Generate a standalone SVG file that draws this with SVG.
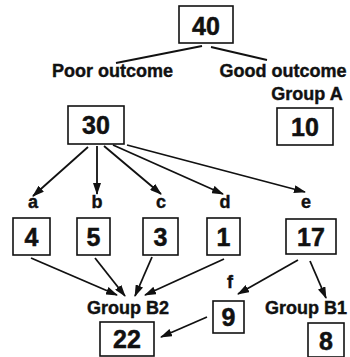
<svg xmlns="http://www.w3.org/2000/svg" width="350" height="357" viewBox="0 0 350 357">
<style>
.box{fill:#fff;stroke:#111;stroke-width:1.6}
.num{font-family:"Liberation Sans",Arial,sans-serif;font-weight:bold;font-size:25px;fill:#111;stroke:#111;stroke-width:0.5;text-anchor:middle}
.lbl{font-family:"Liberation Sans",Arial,sans-serif;font-weight:bold;font-size:18px;fill:#111;stroke:#111;stroke-width:0.4;text-anchor:middle}
.ln{stroke:#111;stroke-width:1.8;fill:none}
.ar{stroke:#111;stroke-width:1.8;fill:none;marker-end:url(#ah)}
</style>
<defs>
<marker id="ah" markerUnits="userSpaceOnUse" markerWidth="12" markerHeight="8" refX="11" refY="4" orient="auto">
<path d="M0,0 L12,4 L0,8 z" fill="#111"/>
</marker>
</defs>
<g id="connectors">
<line class="ln" x1="202" y1="46" x2="116" y2="63"/>
<line class="ln" x1="211" y1="47" x2="267" y2="60"/>
<line class="ar" x1="88" y1="147" x2="33" y2="196"/>
<line class="ar" x1="97" y1="146" x2="97" y2="194"/>
<line class="ar" x1="104" y1="146" x2="161" y2="194"/>
<line class="ar" x1="113" y1="145" x2="223" y2="194"/>
<line class="ar" x1="127" y1="145" x2="305" y2="192"/>
<line class="ar" x1="31" y1="258" x2="117" y2="295"/>
<line class="ar" x1="95" y1="258" x2="125" y2="296"/>
<line class="ar" x1="152" y1="257" x2="135" y2="296"/>
<line class="ar" x1="224" y1="259" x2="145" y2="295"/>
<line class="ar" x1="298" y1="260" x2="238" y2="294"/>
<line class="ar" x1="310" y1="261" x2="326" y2="298"/>
<line class="ar" x1="207" y1="317" x2="161" y2="337"/>
</g>
<g id="n40"><rect class="box" x="179" y="6" width="54" height="37"/><text class="num" x="206" y="35">40</text></g>
<g id="poor"><text class="lbl" x="112.5" y="77">Poor outcome</text></g>
<g id="good"><text class="lbl" x="283" y="77">Good outcome</text></g>
<g id="groupA"><text class="lbl" x="307" y="100">Group A</text></g>
<g id="n30"><rect class="box" x="68" y="106" width="56" height="38"/><text class="num" x="96" y="134">30</text></g>
<g id="n10"><rect class="box" x="277" y="108" width="56" height="37"/><text class="num" x="305" y="136">10</text></g>
<g id="la"><text class="lbl" x="33" y="208">a</text></g>
<g id="lb"><text class="lbl" x="97" y="208">b</text></g>
<g id="lc"><text class="lbl" x="161" y="208">c</text></g>
<g id="ld"><text class="lbl" x="225" y="208">d</text></g>
<g id="le"><text class="lbl" x="306" y="208">e</text></g>
<g id="n4"><rect class="box" x="13" y="218" width="37" height="37"/><text class="num" x="31.5" y="246">4</text></g>
<g id="n5"><rect class="box" x="77" y="218" width="33" height="37"/><text class="num" x="93.5" y="246">5</text></g>
<g id="n3"><rect class="box" x="143" y="218" width="35" height="37"/><text class="num" x="160.5" y="246">3</text></g>
<g id="n1"><rect class="box" x="207" y="218" width="33" height="37"/><text class="num" x="223.5" y="246">1</text></g>
<g id="n17"><rect class="box" x="286" y="219" width="50" height="35"/><text class="num" x="311" y="246">17</text></g>
<g id="lf"><text class="lbl" x="230" y="288">f</text></g>
<g id="groupB2"><text class="lbl" x="128" y="314">Group B2</text></g>
<g id="groupB1"><text class="lbl" x="306" y="314">Group B1</text></g>
<g id="n9"><rect class="box" x="213" y="301" width="31" height="32"/><text class="num" x="228.5" y="326">9</text></g>
<g id="n22"><rect class="box" x="100" y="322" width="54" height="34"/><text class="num" x="127" y="348">22</text></g>
<g id="n8"><rect class="box" x="308" y="323" width="36" height="34"/><text class="num" x="326" y="350">8</text></g>
</svg>
